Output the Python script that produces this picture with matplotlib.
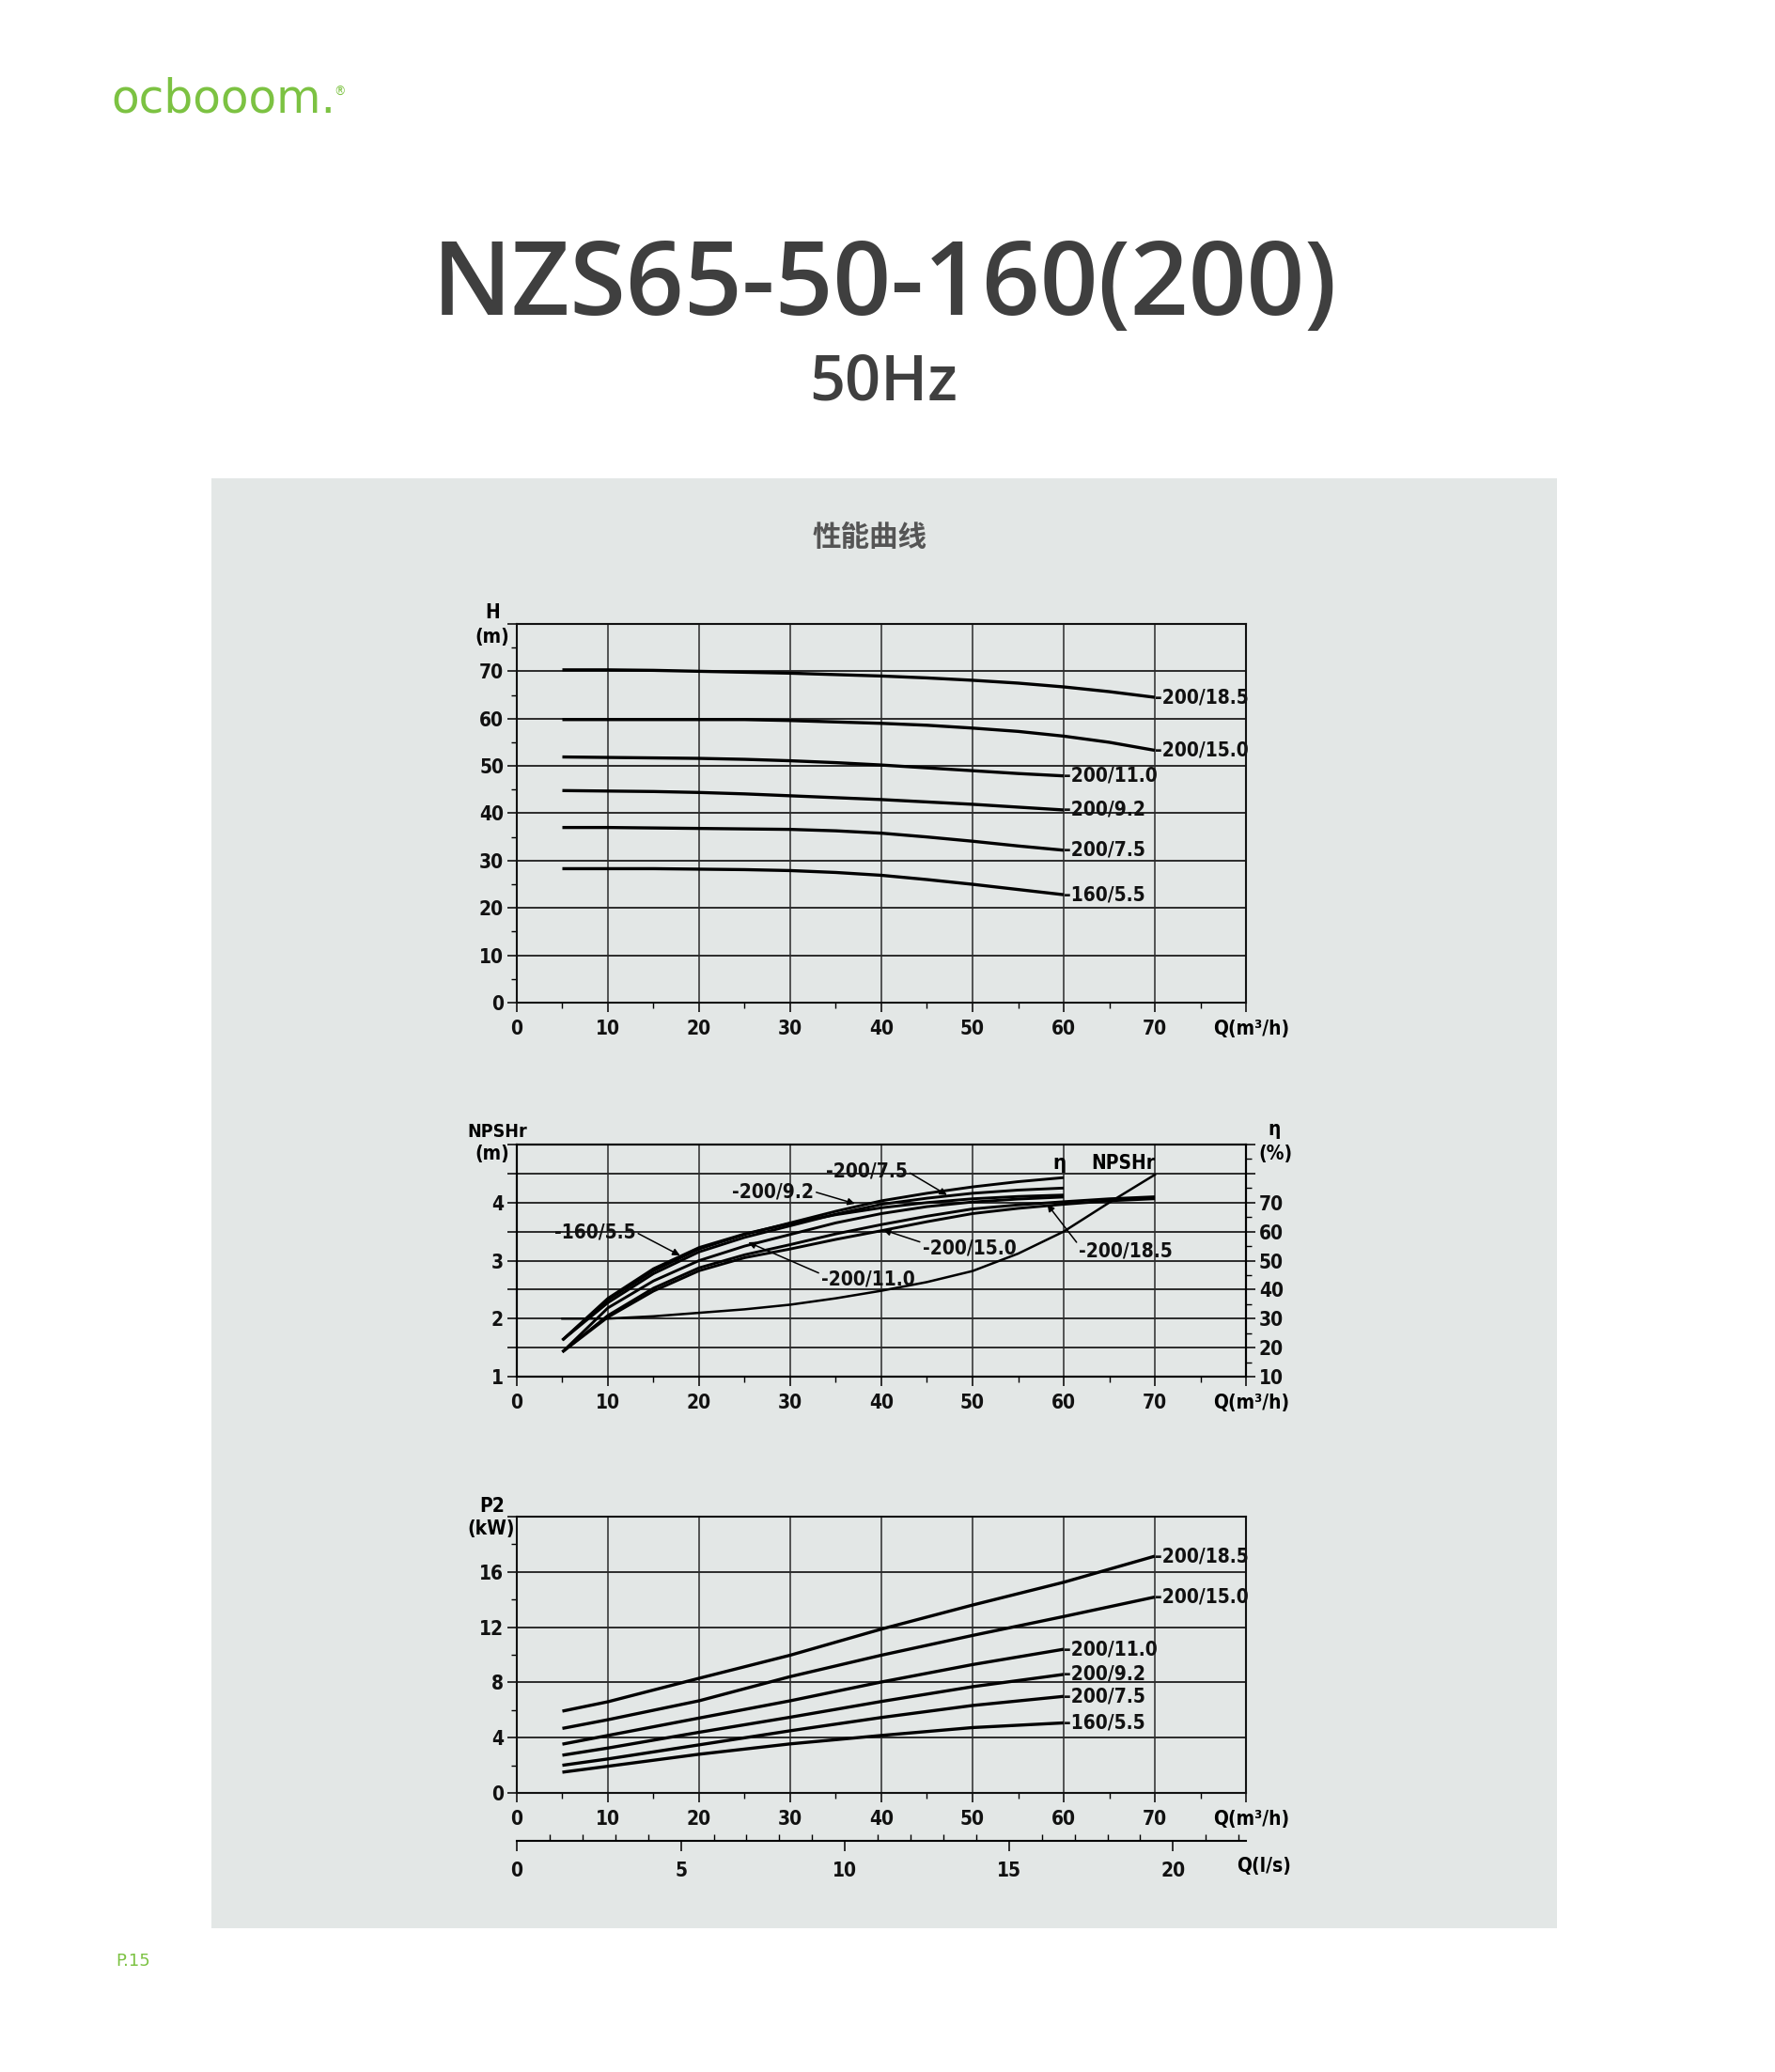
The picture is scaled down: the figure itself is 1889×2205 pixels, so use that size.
import numpy as np
import matplotlib
matplotlib.use("Agg")
import matplotlib.pyplot as plt
from matplotlib.patches import Rectangle
from matplotlib.ticker import MultipleLocator

# ---------------- data ----------------
models = ["200/18.5", "200/15.0", "200/11.0", "200/9.2", "200/7.5", "160/5.5"]

# H-Q, Q step 5 m3/h
q_to70 = [5, 10, 15, 20, 25, 30, 35, 40, 45, 50, 55, 60, 65, 70]
q_to60 = [5, 10, 15, 20, 25, 30, 35, 40, 45, 50, 55, 60]
h_185 = [70.3, 70.3, 70.2, 70.0, 69.8, 69.6, 69.3, 69.0, 68.6, 68.1, 67.5, 66.7, 65.7, 64.5]
h_150 = [59.8, 59.8, 59.8, 59.8, 59.8, 59.6, 59.3, 59.0, 58.6, 58.0, 57.3, 56.3, 55.0, 53.3]
h_110 = [51.9, 51.8, 51.7, 51.6, 51.4, 51.1, 50.7, 50.2, 49.6, 49.0, 48.4, 47.9]
h_92 = [44.8, 44.7, 44.6, 44.4, 44.1, 43.7, 43.3, 42.9, 42.4, 41.9, 41.3, 40.7]
h_75 = [37.0, 37.0, 36.9, 36.8, 36.7, 36.6, 36.3, 35.8, 35.0, 34.1, 33.1, 32.2]
h_55 = [28.3, 28.3, 28.3, 28.2, 28.1, 27.9, 27.5, 26.9, 26.0, 25.0, 23.9, 22.8]

# efficiency (%)
eta_185 = [18.5, 31.1, 40.5, 47.5, 52.0, 55.5, 59.2, 62.4, 65.3, 67.8, 69.2, 70.3, 71.3, 72.0]
eta_150 = [18.5, 30.5, 39.5, 46.5, 51.0, 54.0, 57.3, 60.3, 63.4, 66.2, 68.0, 69.4, 70.6, 71.3]
eta_110 = [18.5, 33.7, 43.0, 50.0, 55.0, 59.0, 63.0, 66.2, 68.6, 70.2, 71.2, 71.9]
eta_92 = [22.6, 35.5, 45.5, 53.0, 58.0, 62.0, 66.0, 69.4, 71.5, 73.2, 74.3, 75.0]
eta_75 = [22.6, 36.5, 46.5, 54.0, 59.0, 63.0, 67.0, 70.6, 73.2, 75.4, 77.2, 78.6]
eta_55 = [22.6, 37.0, 47.2, 54.5, 59.2, 62.8, 65.8, 68.2, 70.0, 71.3, 72.1, 72.6]

# NPSHr (m)
npshr = [2.0, 2.0, 2.04, 2.10, 2.16, 2.24, 2.35, 2.48, 2.63, 2.82, 3.12, 3.50, 4.0, 4.48]

# P2 (kW)
p_q70 = [5, 10, 20, 30, 40, 50, 60, 70]
p_q60 = [5, 10, 20, 30, 40, 50, 60]
p_185 = [5.92, 6.6, 8.3, 9.97, 11.86, 13.6, 15.25, 17.14]
p_150 = [4.67, 5.3, 6.67, 8.42, 9.97, 11.4, 12.77, 14.18]
p_110 = [3.53, 4.16, 5.42, 6.67, 8.03, 9.29, 10.4]
p_92 = [2.73, 3.25, 4.39, 5.48, 6.62, 7.69, 8.58]
p_75 = [2.0, 2.46, 3.48, 4.5, 5.46, 6.33, 6.99]
p_55 = [1.5, 1.93, 2.8, 3.55, 4.16, 4.73, 5.07]

# efficiency label leaders: (label, text x, text eta, tip x, tip eta, text side)
eta_labels = [
    ("-200/7.5", 33.9, 80.7, 47.2, 72.6, "L"),
    ("-200/9.2", 23.6, 73.8, 37.1, 69.6, "L"),
    ("-160/5.5", 4.1, 59.8, 17.9, 51.8, "L"),
    ("-200/15.0", 44.5, 54.2, 40.2, 60.6, "R"),
    ("-200/11.0", 33.4, 43.4, 25.4, 56.3, "R"),
    ("-200/18.5", 61.7, 53.2, 58.2, 69.4, "R"),
]

# ---------------- style ----------------
W, H = 1890, 2205
plt.rcParams["font.family"] = ["DejaVu Sans"]
plt.rcParams["font.stretch"] = "condensed"
plt.rcParams["font.weight"] = "bold"
GRID = "#2b2b2b"
CURVE_LW = 2.4
FS = 15


def fx(px):
    return px / W


def fy(py):
    return 1 - py / H


fig = plt.figure(figsize=(W / 100, H / 100), dpi=100)
fig.patch.set_facecolor("white")

# panel background
fig.patches.append(Rectangle((fx(225), fy(2052)), (1657 - 225) / W, (2052 - 509) / H,
                             transform=fig.transFigure, facecolor="#e3e7e6",
                             edgecolor="none", zorder=-10))

# header
fig.text(fx(118), fy(105), "ocbooom.", color="#7cc242", fontsize=35,
         family="DejaVu Sans", weight="normal", stretch="normal",
         va="center", ha="left")
fig.text(fx(362), fy(98), "®", color="#7cc242", fontsize=10,
         family="DejaVu Sans", weight="normal", va="center", ha="center")
fig.text(fx(942), fy(307), "NZS65-50-160(200)", color="#3f3f3f", fontsize=78,
         family="Open Sans", weight="semibold", stretch="normal",
         ha="center", va="center")
fig.text(fx(940), fy(408), "50Hz", color="#3f3f3f", fontsize=48,
         family="Open Sans", weight="semibold", stretch="normal",
         ha="center", va="center")
fig.text(fx(925), fy(572), "性能曲线", color="#555555", fontsize=22,
         family=["Noto Sans CJK SC", "DejaVu Sans"], weight="bold",
         stretch="normal", ha="center", va="center")
fig.text(fx(142), fy(2087), "P.15", color="#7cc242", fontsize=13,
         family="DejaVu Sans", weight="normal", stretch="normal",
         ha="center", va="center")

AX_L, AX_R = 550, 1326


def make_axes(top, bottom):
    ax = fig.add_axes([fx(AX_L), fy(bottom), (AX_R - AX_L) / W, (bottom - top) / H])
    ax.set_facecolor("none")
    ax.set_xlim(0, 80)
    ax.set_xticks(range(0, 81, 10), [str(v) for v in range(0, 71, 10)] + [""])
    ax.xaxis.set_minor_locator(MultipleLocator(5))
    ax.tick_params(which="major", direction="out", length=7, width=1.2,
                   labelsize=FS, colors="#111111")
    ax.tick_params(axis="x", which="major", pad=6)
    ax.tick_params(axis="y", which="major", pad=3)
    ax.tick_params(which="minor", direction="out", length=4, width=1.0)
    ax.grid(which="major", axis="x", color=GRID, lw=1.1)
    ax.grid(which="major", axis="y", color=GRID, lw=1.4)
    ax.set_axisbelow(True)
    for s in ax.spines.values():
        s.set_linewidth(1.5)
        s.set_color("#111111")
    fig.text(fx(1291), fy(bottom + 28), "Q(m³/h)", fontsize=FS, ha="left", va="center")
    return ax


def end_label(ax, x, y, txt):
    ax.text(x, y, "-" + txt, fontsize=FS, ha="left", va="center", color="#111111")


# ---------------- H-Q ----------------
ax1 = make_axes(664, 1067)
ax1.set_ylim(0, 80)
ax1.set_yticks(range(0, 81, 10), [str(v) for v in range(0, 71, 10)] + [""])
ax1.yaxis.set_minor_locator(MultipleLocator(5))
h_series = [(q_to70, h_185), (q_to70, h_150), (q_to60, h_110),
            (q_to60, h_92), (q_to60, h_75), (q_to60, h_55)]
for name, (qs, hs) in zip(models, h_series):
    ax1.plot(qs, hs, color="black", lw=CURVE_LW, solid_capstyle="butt")
    end_label(ax1, qs[-1], hs[-1], name)
fig.text(fx(524), fy(652), "H", fontsize=FS, ha="center", va="center")
fig.text(fx(524), fy(678), "(m)", fontsize=FS, ha="center", va="center")

# ---------------- NPSHr / eta ----------------
ax2 = make_axes(1218, 1465)
ax2.set_ylim(1, 5)
ax2.set_yticks(np.arange(1, 5.01, 0.5), ["1", "", "2", "", "3", "", "4", "", ""])
ax2.plot(q_to70, npshr, color="black", lw=1.8)
ax2e = ax2.twinx()
ax2e.set_ylim(10, 90)
ax2e.set_yticks(range(10, 91, 10), [str(v) for v in range(10, 71, 10)] + ["", ""])
ax2e.yaxis.set_minor_locator(MultipleLocator(5))
ax2e.tick_params(which="major", direction="out", length=7, width=1.2,
                 labelsize=FS, colors="#111111", pad=3)
ax2e.tick_params(which="minor", direction="out", length=4, width=1.0)
for s in ax2e.spines.values():
    s.set_linewidth(1.5)
eta_series = [(q_to70, eta_185), (q_to70, eta_150), (q_to60, eta_110),
              (q_to60, eta_92), (q_to60, eta_75), (q_to60, eta_55)]
for qs, es in eta_series:
    ax2e.plot(qs, es, color="black", lw=CURVE_LW - 0.3, solid_capstyle="butt")
for txt, tx, ty, px_, py_, side in eta_labels:
    rel = (1.0, 0.5) if side == "L" else (0.0, 0.8)
    ax2e.annotate(txt, xy=(px_, py_), xytext=(tx, ty), fontsize=FS,
                  ha="left", va="center", color="#111111",
                  arrowprops=dict(arrowstyle="-|>", color="black", lw=1.1,
                                  mutation_scale=11, relpos=rel,
                                  shrinkA=0, shrinkB=0))
ax2e.text(59.5, 83.5, "η", fontsize=FS + 1, ha="center", va="center")
ax2e.text(70, 83.5, "NPSHr", fontsize=FS, ha="right", va="center")
fig.text(fx(529), fy(1205), "NPSHr", fontsize=FS - 1, ha="center", va="center")
fig.text(fx(524), fy(1228), "(m)", fontsize=FS, ha="center", va="center")
fig.text(fx(1356), fy(1202), "η", fontsize=FS, ha="center", va="center")
fig.text(fx(1357), fy(1228), "(%)", fontsize=FS, ha="center", va="center")

# ---------------- P2 ----------------
ax3 = make_axes(1614, 1908)
ax3.set_ylim(0, 20)
ax3.set_yticks(range(0, 21, 4), [str(v) for v in range(0, 17, 4)] + [""])
ax3.yaxis.set_minor_locator(MultipleLocator(2))
p_series = [(p_q70, p_185), (p_q70, p_150), (p_q60, p_110),
            (p_q60, p_92), (p_q60, p_75), (p_q60, p_55)]
for name, (qs, ps) in zip(models, p_series):
    ax3.plot(qs, ps, color="black", lw=CURVE_LW, solid_capstyle="butt")
    end_label(ax3, qs[-1], ps[-1], name)
fig.text(fx(524), fy(1603), "P2", fontsize=FS, ha="center", va="center")
fig.text(fx(523), fy(1627), "(kW)", fontsize=FS, ha="center", va="center")

# secondary flow scale in l/s
ax4 = fig.add_axes([fx(AX_L), fy(1959), (AX_R - AX_L) / W, 0.0001])
ax4.set_facecolor("none")
ax4.set_xlim(0, 80 / 3.6)
ax4.set_yticks([])
for k in ("left", "right", "top"):
    ax4.spines[k].set_visible(False)
ax4.spines["bottom"].set_linewidth(1.5)
ax4.set_xticks([0, 5, 10, 15, 20])
ax4.xaxis.set_minor_locator(MultipleLocator(1))
ax4.tick_params(which="major", direction="out", length=8, width=1.2,
                labelsize=FS, pad=8, colors="#111111")
ax4.tick_params(which="minor", direction="in", length=5, width=1.0)
fig.text(fx(1316), fy(1986), "Q(l/s)", fontsize=FS, ha="left", va="center")

fig.savefig("out.png", dpi=100)
